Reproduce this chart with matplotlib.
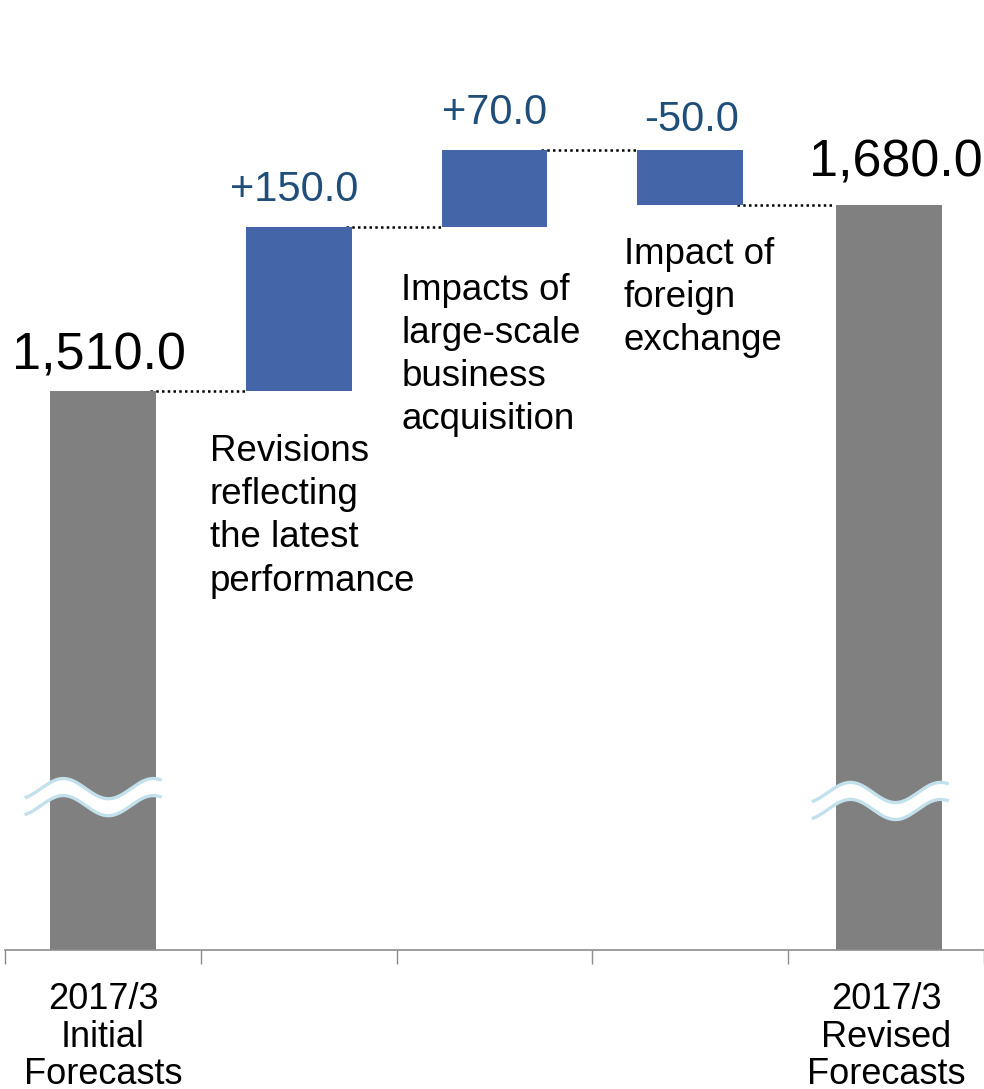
import numpy as np
import matplotlib.pyplot as plt

plt.rcParams['font.family'] = ['Liberation Sans', 'DejaVu Sans']

# waterfall data (figures in the same unit throughout)
start_value = 1510.0
changes = [150.0, 70.0, -50.0]
end_value = 1680.0
tick_labels = ['2017/3\nInitial\nForecasts', '', '', '', '2017/3\nRevised\nForecasts']
descriptions = ['Revisions\nreflecting\nthe latest\nperformance',
                'Impacts of\nlarge-scale\nbusiness\nacquisition',
                'Impact of\nforeign\nexchange']

# styling
gray = '#808080'
blue = '#4565A9'
label_blue = '#1F4E79'
bar_w = 0.54
y_low, y_high = 1000, 1867
desc_offsets = [(-26, -31), (-29, -33), (-10, -23)]
label_offsets = [(-3, 12), (0, 12.5), (1, 7)]
break_levels = [1139.5, 1136.0]

fig = plt.figure(figsize=(9.84, 10.89), dpi=100)
ax = fig.add_axes([5 / 984, 1 - 950 / 1089, 1 - 5 / 984, 950 / 1089])

x = np.arange(len(tick_labels))

# totals
ax.bar([x[0], x[-1] + 0.015], [start_value - y_low, end_value - y_low],
       bottom=y_low, width=bar_w, color=gray, zorder=2)

# floating change bars
levels = [start_value]
for c in changes:
    levels.append(levels[-1] + c)
bottoms = [min(levels[i], levels[i + 1]) for i in range(len(changes))]
ax.bar(x[1:-1], np.abs(changes), bottom=bottoms, width=bar_w, color=blue, zorder=2)

# dotted connectors between neighbouring bars
for i, lv in enumerate(levels):
    ax.plot([x[i] + bar_w / 2 - 0.03, x[i + 1] - bar_w / 2], [lv, lv],
            color='black', linestyle=(0, (1, 1.3)), linewidth=1.8, zorder=1)

# value labels
ax.annotate(f'{start_value:,.1f}', (x[0] - 0.02, start_value), xytext=(0, 7.5),
            textcoords='offset points', ha='center', va='bottom', fontsize=37.5)
ax.annotate(f'{end_value:,.1f}', (x[-1] + 0.05, end_value), xytext=(0, 12.5),
            textcoords='offset points', ha='center', va='bottom', fontsize=37.5)
for i, c in enumerate(changes):
    top = max(levels[i], levels[i + 1])
    ax.annotate(f'{c:+.1f}', (x[i + 1], top), xytext=label_offsets[i],
                textcoords='offset points', ha='center', va='bottom',
                fontsize=30, color=label_blue)

# descriptions under the change bars
for i, txt in enumerate(descriptions):
    ax.annotate(txt, (x[i + 1] - bar_w / 2, bottoms[i]), xytext=desc_offsets[i],
                textcoords='offset points', ha='left', va='top',
                fontsize=26.4, linespacing=1.3)

# axis break marks on the total bars
t = np.linspace(-0.40, 0.30, 200)
amp, period, gap = 9.2, 0.46, 15.5
for xc, lvl in zip([x[0], x[-1] + 0.02], break_levels):
    wave = amp * np.sin(2 * np.pi * (t + 0.317) / period)
    upper = lvl + gap / 2 + wave
    lower = lvl - gap / 2 + wave
    ax.fill_between(xc + t, lower, upper, color='white', zorder=3, linewidth=0)
    ax.plot(xc + t, upper, color='#C3E1EC', linewidth=2.4, zorder=4,
            solid_capstyle='butt')
    ax.plot(xc + t, lower, color='#C3E1EC', linewidth=2.4, zorder=4,
            solid_capstyle='butt')

ax.set_xlim(-0.5, len(tick_labels) - 0.5)
ax.set_ylim(y_low, y_high)
ax.set_yticks([])
ax.set_xticks(np.arange(len(tick_labels) + 1) - 0.5)
ax.set_xticklabels([])
ax.set_xticks(x, minor=True)
ax.set_xticklabels(tick_labels, minor=True, fontsize=26, linespacing=1.1)
ax.tick_params(axis='x', which='major', direction='out', length=10,
               width=1, color='#8C8C8C')
ax.tick_params(axis='x', which='minor', length=0, pad=23)
for side in ['top', 'right', 'left']:
    ax.spines[side].set_visible(False)
ax.spines['bottom'].set_color('#8C8C8C')
ax.spines['bottom'].set_linewidth(1.2)

fig.savefig('out.png', dpi=100)
